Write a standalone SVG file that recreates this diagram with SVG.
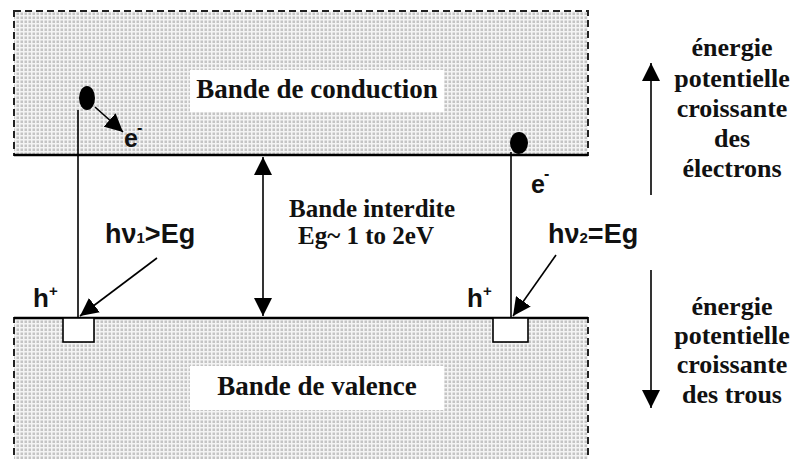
<svg xmlns="http://www.w3.org/2000/svg" width="798" height="459" viewBox="0 0 798 459">
<defs>
<pattern id="dots" width="4" height="4" patternUnits="userSpaceOnUse">
<rect width="4" height="4" fill="#f4f4f4"/>
<rect x="0.5" y="0.5" width="2.5" height="2.5" fill="#c4c4c4"/>
</pattern>
<marker id="ahL" viewBox="0 0 10 10" refX="10" refY="5" markerWidth="18" markerHeight="18" markerUnits="userSpaceOnUse" orient="auto-start-reverse">
<path d="M0,0 L10,5 L0,10 z" fill="#000"/>
</marker>
</defs>
<style>
.band{fill:url(#dots);stroke:#222;stroke-width:2;stroke-dasharray:7,4}
.edge{stroke:#000;stroke-width:2.5}
.ln{stroke:#000;stroke-width:1.6;fill:none}
.tb{font-family:"Liberation Serif",serif;font-weight:bold;fill:#111}
.ta{font-family:"Liberation Sans",Arial,sans-serif;font-weight:bold;fill:#111}
.bg{fill:#fff}
.hole{fill:#fff;stroke:#000;stroke-width:1.6}
</style>
<rect width="798" height="459" fill="#fff"/>

<g id="conduction-band">
<rect class="band" x="14" y="11" width="574" height="144"/>
<line class="edge" x1="14" y1="155" x2="588" y2="155"/>
<rect class="bg" x="190" y="70" width="254" height="42"/>
<text class="tb" x="317" y="98" font-size="27" text-anchor="middle">Bande de conduction</text>
</g>

<g id="valence-band">
<rect class="band" x="14" y="318" width="574" height="160"/>
<line class="edge" x1="14" y1="318" x2="588" y2="318"/>
<rect class="bg" x="190" y="366" width="254" height="44"/>
<text class="tb" x="317" y="395" font-size="27" text-anchor="middle">Bande de valence</text>
</g>

<g id="gap-label">
<text class="tb" x="372" y="217" font-size="25" text-anchor="middle">Bande interdite</text>
<text class="tb" x="366" y="244" font-size="25" text-anchor="middle">Eg~ 1 to 2eV</text>
</g>

<g id="electron-left">
<ellipse cx="87" cy="98" rx="8" ry="12" fill="#000"/>
<text class="ta" x="124" y="147" font-size="25">e<tspan font-size="16" dx="-1" dy="-14">-</tspan></text>
</g>

<g id="electron-right">
<ellipse cx="519" cy="143" rx="9" ry="11" fill="#000"/>
<text class="ta" x="531" y="193" font-size="25">e<tspan font-size="16" dx="-1" dy="-14">-</tspan></text>
</g>

<g id="hole-left">
<rect class="hole" x="63" y="318" width="31" height="24"/>
<text class="ta" x="33" y="307" font-size="26">h<tspan font-size="15" dy="-11">+</tspan></text>
</g>

<g id="hole-right">
<rect class="hole" x="493" y="318" width="35" height="24"/>
<text class="ta" x="467" y="307" font-size="26">h<tspan font-size="15" dy="-11">+</tspan></text>
</g>

<g id="photon-left">
<text class="ta" x="105" y="243" font-size="27">hν<tspan font-size="15">1</tspan>&gt;Eg</text>
</g>

<g id="photon-right">
<text class="ta" x="548" y="243" font-size="27">hν<tspan font-size="15">2</tspan>=Eg</text>
</g>

<g id="legend-up">
<text class="tb" font-size="26" text-anchor="middle"><tspan x="732" y="56">énergie</tspan><tspan x="732" y="87">potentielle</tspan><tspan x="732" y="117">croissante</tspan><tspan x="732" y="147">des</tspan><tspan x="732" y="177">électrons</tspan></text>
</g>

<g id="legend-down">
<text class="tb" font-size="26" text-anchor="middle"><tspan x="732" y="315">énergie</tspan><tspan x="732" y="344">potentielle</tspan><tspan x="732" y="373">croissante</tspan><tspan x="732" y="403">des trous</tspan></text>
</g>

<g id="connectors">
<line class="ln" x1="78" y1="110" x2="78" y2="318"/>
<line class="ln" x1="95" y1="107" x2="123" y2="132" marker-end="url(#ahL)"/>
<line class="ln" x1="511" y1="152" x2="511" y2="318"/>
<line class="ln" x1="263" y1="157" x2="263" y2="316" marker-start="url(#ahL)" marker-end="url(#ahL)"/>
<line class="ln" x1="157" y1="258" x2="80" y2="316" marker-end="url(#ahL)"/>
<line class="ln" x1="556" y1="255" x2="513" y2="316" marker-end="url(#ahL)"/>
<line class="ln" x1="651" y1="195" x2="651" y2="63" marker-end="url(#ahL)"/>
<line class="ln" x1="651" y1="270" x2="651" y2="408" marker-end="url(#ahL)"/>
</g>
</svg>
